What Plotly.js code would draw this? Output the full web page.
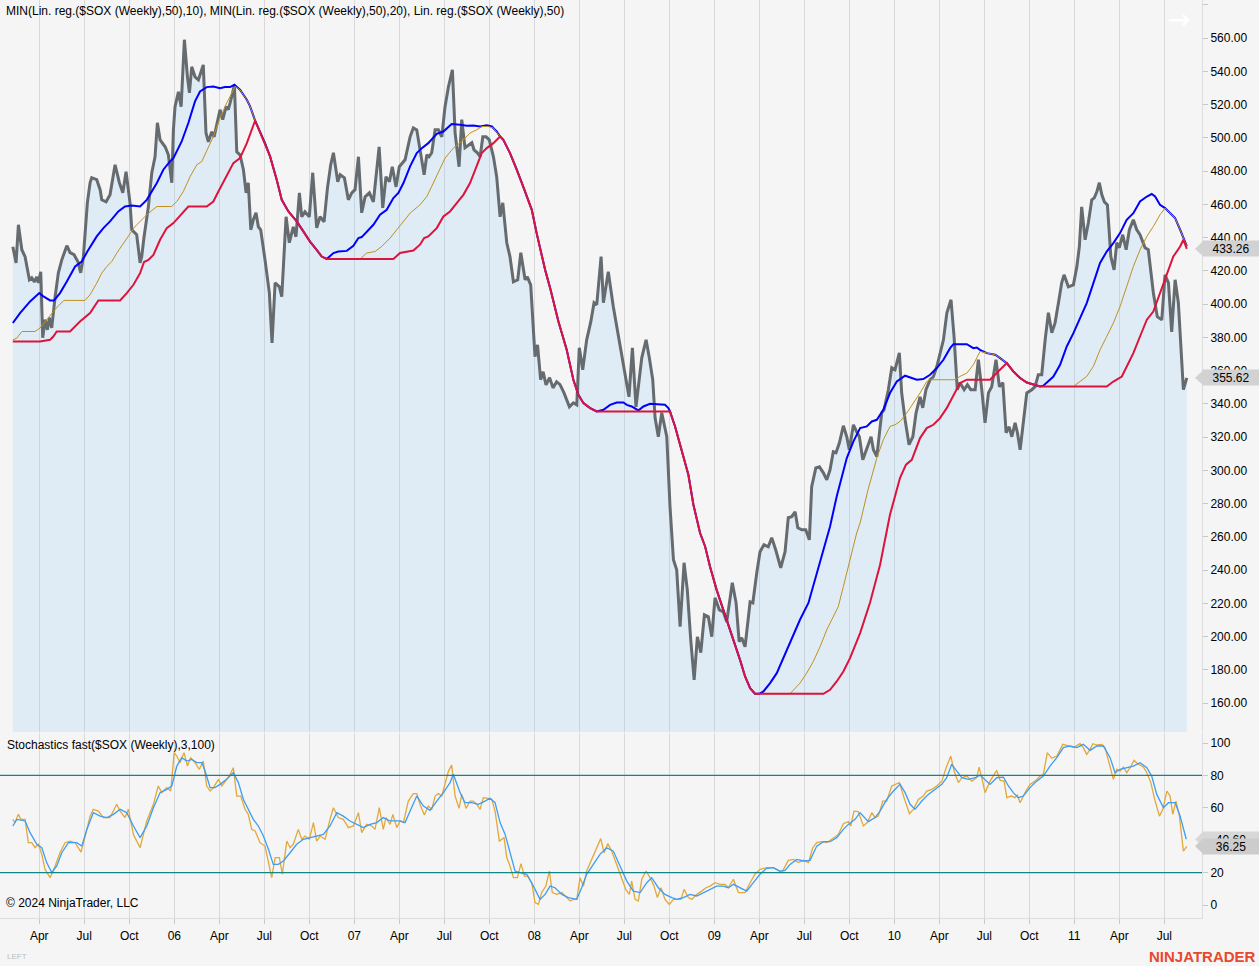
<!DOCTYPE html>
<html><head><meta charset="utf-8">
<script src="https://cdn.plot.ly/plotly-3.0.1.min.js"></script>
<style>html,body{margin:0;padding:0;background:#f5f5f5}#chart{width:1259px;height:966px}</style>
</head><body><div id="chart"></div>
<script>
// ---- data: [decimal year, value] ----
const price = [[2005.103,434.5],[2005.121,424.8],[2005.134,447.7],[2005.153,432.7],[2005.171,428.5],[2005.195,414.6],[2005.208,415.8],[2005.223,413.4],[2005.236,416.4],[2005.245,412.8],[2005.258,419.4],[2005.269,379.7],[2005.282,390.6],[2005.295,384.5],[2005.306,391.8],[2005.319,385.7],[2005.338,404.4],[2005.356,418.8],[2005.375,426.6],[2005.403,435.1],[2005.421,430.9],[2005.443,429.7],[2005.465,425.4],[2005.480,418.8],[2005.495,428.5],[2005.517,460.9],[2005.532,473.0],[2005.541,476.0],[2005.569,474.8],[2005.588,468.8],[2005.597,462.7],[2005.621,461.5],[2005.643,465.7],[2005.671,483.8],[2005.695,473.0],[2005.714,466.9],[2005.732,479.6],[2005.754,460.9],[2005.764,444.7],[2005.791,441.7],[2005.810,424.8],[2005.819,428.5],[2005.832,440.5],[2005.856,458.5],[2005.875,479.0],[2005.893,488.6],[2005.906,509.0],[2005.921,498.8],[2005.949,494.6],[2005.967,489.8],[2005.986,473.0],[2005.995,504.8],[2006.004,518.7],[2006.023,527.7],[2006.038,518.7],[2006.056,559.0],[2006.073,536.7],[2006.084,527.1],[2006.097,542.7],[2006.115,536.7],[2006.134,534.9],[2006.161,543.9],[2006.176,503.0],[2006.189,497.6],[2006.208,503.6],[2006.221,500.6],[2006.254,516.9],[2006.269,510.9],[2006.288,518.7],[2006.300,516.9],[2006.319,524.7],[2006.334,531.9],[2006.347,491.6],[2006.365,489.8],[2006.384,480.8],[2006.399,466.9],[2006.411,473.0],[2006.425,444.7],[2006.439,450.7],[2006.454,454.9],[2006.467,446.5],[2006.480,444.7],[2006.504,426.6],[2006.528,406.8],[2006.543,376.7],[2006.560,412.8],[2006.584,410.4],[2006.597,404.4],[2006.621,452.5],[2006.639,436.9],[2006.661,446.5],[2006.676,440.5],[2006.695,466.9],[2006.708,452.5],[2006.726,455.5],[2006.750,452.5],[2006.769,479.0],[2006.791,445.9],[2006.810,452.5],[2006.832,449.5],[2006.851,469.9],[2006.869,483.8],[2006.884,491.0],[2006.908,473.6],[2006.921,477.8],[2006.945,475.9],[2006.967,462.7],[2006.986,466.9],[2007.004,468.8],[2007.023,488.6],[2007.041,454.9],[2007.060,464.5],[2007.084,466.9],[2007.106,461.5],[2007.138,494.6],[2007.158,457.9],[2007.176,476.6],[2007.195,473.6],[2007.211,482.6],[2007.232,470.5],[2007.250,482.6],[2007.282,486.8],[2007.310,500.6],[2007.328,506.0],[2007.347,504.8],[2007.365,492.8],[2007.388,477.8],[2007.403,489.8],[2007.415,488.6],[2007.430,491.0],[2007.449,504.8],[2007.467,504.8],[2007.486,500.6],[2007.504,518.7],[2007.523,530.7],[2007.545,540.9],[2007.560,503.0],[2007.582,482.6],[2007.597,510.9],[2007.615,494.0],[2007.634,495.8],[2007.653,497.0],[2007.665,492.8],[2007.684,491.0],[2007.699,488.6],[2007.714,500.6],[2007.732,500.6],[2007.750,498.8],[2007.773,488.6],[2007.791,476.6],[2007.810,452.5],[2007.825,460.9],[2007.847,436.9],[2007.865,428.5],[2007.884,413.4],[2007.908,414.6],[2007.925,430.9],[2007.949,414.6],[2007.961,416.4],[2007.980,411.6],[2008.004,368.3],[2008.018,375.5],[2008.035,354.5],[2008.049,359.3],[2008.065,351.4],[2008.085,355.7],[2008.104,349.6],[2008.124,353.3],[2008.143,351.5],[2008.165,346.6],[2008.195,338.2],[2008.217,340.6],[2008.236,339.4],[2008.250,373.7],[2008.269,360.5],[2008.291,378.5],[2008.314,389.4],[2008.332,400.8],[2008.347,399.6],[2008.371,428.5],[2008.384,400.8],[2008.411,419.4],[2008.439,398.4],[2008.467,380.3],[2008.495,362.3],[2008.514,350.3],[2008.526,344.2],[2008.545,373.7],[2008.565,338.2],[2008.597,367.7],[2008.621,378.5],[2008.639,367.7],[2008.658,354.5],[2008.671,331.6],[2008.689,320.2],[2008.708,334.6],[2008.736,320.2],[2008.754,278.1],[2008.773,246.2],[2008.791,240.2],[2008.810,205.9],[2008.832,244.4],[2008.850,228.1],[2008.869,198.1],[2008.888,174.0],[2008.906,199.9],[2008.925,190.3],[2008.945,213.1],[2008.967,211.9],[2008.986,199.9],[2009.004,223.3],[2009.028,216.1],[2009.050,214.9],[2009.069,208.9],[2009.100,232.4],[2009.121,220.3],[2009.138,196.9],[2009.152,199.3],[2009.171,193.9],[2009.199,220.9],[2009.214,220.3],[2009.236,238.4],[2009.254,251.0],[2009.276,255.2],[2009.300,254.0],[2009.319,259.4],[2009.341,252.2],[2009.369,241.4],[2009.393,251.0],[2009.411,271.5],[2009.430,272.1],[2009.449,275.1],[2009.464,265.4],[2009.486,264.2],[2009.508,264.2],[2009.528,258.2],[2009.541,290.1],[2009.564,301.5],[2009.584,302.1],[2009.606,298.5],[2009.625,294.3],[2009.643,300.3],[2009.661,311.2],[2009.676,310.6],[2009.695,316.6],[2009.717,326.8],[2009.736,320.2],[2009.750,312.4],[2009.773,327.4],[2009.791,323.2],[2009.806,320.2],[2009.825,306.3],[2009.853,314.2],[2009.871,320.2],[2009.884,312.4],[2009.903,308.2],[2009.930,334.6],[2009.943,336.4],[2009.967,348.5],[2009.986,361.7],[2010.004,360.5],[2010.028,370.7],[2010.041,346.6],[2010.060,330.4],[2010.082,315.4],[2010.103,320.2],[2010.121,334.6],[2010.143,344.2],[2010.158,337.6],[2010.176,348.5],[2010.199,354.5],[2010.217,356.3],[2010.236,362.3],[2010.254,370.7],[2010.273,378.5],[2010.292,394.8],[2010.315,402.6],[2010.332,380.3],[2010.350,348.5],[2010.365,352.7],[2010.388,348.5],[2010.406,351.5],[2010.425,348.5],[2010.449,348.5],[2010.467,366.5],[2010.486,348.5],[2010.504,328.6],[2010.523,346.6],[2010.541,350.3],[2010.565,366.5],[2010.584,350.3],[2010.603,352.7],[2010.621,322.6],[2010.638,326.2],[2010.653,320.2],[2010.671,328.6],[2010.684,322.6],[2010.699,312.4],[2010.717,330.4],[2010.736,346.6],[2010.764,348.5],[2010.782,350.3],[2010.800,357.5],[2010.819,357.5],[2010.838,378.5],[2010.856,394.8],[2010.875,382.7],[2010.893,388.7],[2010.912,400.8],[2010.930,412.8],[2010.943,417.6],[2010.967,410.4],[2010.995,411.6],[2011.014,422.4],[2011.028,434.5],[2011.041,458.5],[2011.060,438.7],[2011.078,448.9],[2011.097,462.7],[2011.111,463.9],[2011.125,467.5],[2011.139,473.0],[2011.153,465.7],[2011.167,461.5],[2011.184,459.7],[2011.203,428.5],[2011.221,420.6],[2011.236,436.9],[2011.250,433.9],[2011.269,441.7],[2011.288,432.7],[2011.306,444.7],[2011.328,450.7],[2011.347,444.7],[2011.365,441.7],[2011.393,433.9],[2011.411,432.7],[2011.439,406.8],[2011.461,392.4],[2011.486,390.5],[2011.504,417.6],[2011.523,412.8],[2011.541,383.3],[2011.560,414.6],[2011.578,400.8],[2011.606,348.5],[2011.625,355.62]];

// MIN(Lin. reg.(50),10) - blue
const minReg10 = [[2005.103,388.6],[2005.143,394.6],[2005.199,401.6],[2005.250,406.6],[2005.273,404.6],[2005.310,402.2],[2005.332,402.2],[2005.365,406.6],[2005.403,413.6],[2005.449,422.6],[2005.486,425.6],[2005.517,431.6],[2005.569,440.7],[2005.606,445.7],[2005.643,449.7],[2005.689,455.7],[2005.726,458.7],[2005.764,459.3],[2005.810,458.7],[2005.847,462.7],[2005.903,472.8],[2005.939,480.8],[2005.976,485.8],[2005.995,487.8],[2006.041,497.8],[2006.078,508.9],[2006.115,521.9],[2006.143,527.9],[2006.180,530.5],[2006.217,530.9],[2006.254,529.9],[2006.282,530.5],[2006.310,530.5],[2006.334,531.9],[2006.365,528.9],[2006.403,522.9],[2006.421,518.9],[2006.449,510.4],[2006.504,496.8],[2006.532,488.8],[2006.569,474.8],[2006.597,462.7],[2006.634,455.7],[2006.680,449.7],[2006.717,443.7],[2006.754,437.6],[2006.791,432.6],[2006.819,428.6],[2006.847,427.1],[2006.884,430.7],[2006.911,431.6],[2006.958,432.0],[2006.995,435.0],[2007.023,439.7],[2007.041,440.3],[2007.069,443.7],[2007.106,447.7],[2007.143,453.7],[2007.180,456.7],[2007.217,463.8],[2007.245,466.8],[2007.273,472.8],[2007.310,482.8],[2007.347,490.8],[2007.375,493.8],[2007.411,496.8],[2007.458,502.4],[2007.495,503.8],[2007.541,508.3],[2007.588,507.9],[2007.625,507.3],[2007.661,507.4],[2007.699,506.8],[2007.736,507.6],[2007.764,506.8],[2007.791,503.8],[2007.810,500.8],[2007.828,498.8],[2007.865,490.8],[2007.903,480.8],[2007.939,470.7],[2007.986,456.7],[2008.013,442.7],[2008.060,420.6],[2008.088,409.6],[2008.134,389.5],[2008.180,372.5],[2008.217,354.5],[2008.245,345.4],[2008.273,340.4],[2008.310,337.4],[2008.347,335.4],[2008.384,336.4],[2008.421,339.4],[2008.458,340.8],[2008.495,340.8],[2008.514,339.4],[2008.541,338.4],[2008.578,336.0],[2008.606,338.4],[2008.643,340.0],[2008.699,339.4],[2008.726,339.4],[2008.745,337.4],[2008.754,335.4],[2008.782,326.4],[2008.819,312.4],[2008.856,297.3],[2008.884,279.3],[2008.921,262.3],[2008.949,254.2],[2008.976,242.2],[2009.013,228.1],[2009.050,216.1],[2009.088,204.1],[2009.115,196.1],[2009.143,186.0],[2009.171,176.0],[2009.199,169.0],[2009.226,165.6],[2009.250,165.6],[2009.273,167.0],[2009.310,172.0],[2009.347,178.0],[2009.384,187.1],[2009.430,198.1],[2009.476,210.1],[2009.523,220.2],[2009.560,234.1],[2009.606,252.2],[2009.643,266.2],[2009.680,284.3],[2009.717,300.3],[2009.736,307.4],[2009.773,317.4],[2009.810,325.4],[2009.847,326.4],[2009.875,329.4],[2009.903,330.4],[2009.939,336.4],[2009.976,346.5],[2010.014,353.4],[2010.060,356.9],[2010.097,355.5],[2010.125,354.5],[2010.161,354.9],[2010.199,357.5],[2010.236,361.5],[2010.273,366.5],[2010.310,373.5],[2010.328,375.9],[2010.403,375.9],[2010.439,373.5],[2010.458,373.9],[2010.476,372.5],[2010.514,370.5],[2010.560,369.5],[2010.588,367.5],[2010.625,364.5],[2010.661,359.5],[2010.699,355.5],[2010.736,352.8],[2010.810,350.4],[2010.828,350.9],[2010.884,356.4],[2010.921,363.5],[2010.958,374.5],[2010.995,382.5],[2011.032,391.6],[2011.069,400.6],[2011.106,412.6],[2011.143,424.7],[2011.180,431.6],[2011.217,436.7],[2011.254,442.7],[2011.291,450.7],[2011.328,454.7],[2011.365,461.7],[2011.403,464.7],[2011.430,466.2],[2011.449,464.7],[2011.476,459.7],[2011.504,457.7],[2011.532,454.7],[2011.560,451.7],[2011.588,444.7],[2011.625,434.8]];

// MIN(Lin. reg.(50),20) - gold
const minReg20 = [[2005.103,378.5],[2005.125,379.5],[2005.153,383.5],[2005.226,383.5],[2005.254,385.6],[2005.282,389.5],[2005.310,393.6],[2005.328,395.5],[2005.356,399.0],[2005.388,402.2],[2005.504,402.2],[2005.532,405.6],[2005.569,412.6],[2005.597,418.6],[2005.625,422.6],[2005.653,425.6],[2005.680,430.6],[2005.717,436.7],[2005.754,442.9],[2005.782,446.7],[2005.810,449.7],[2005.847,453.7],[2005.903,458.7],[2005.986,458.7],[2006.014,461.7],[2006.050,467.7],[2006.088,476.7],[2006.125,483.8],[2006.153,485.8],[2006.180,491.8],[2006.217,500.8],[2006.254,511.9],[2006.291,520.9],[2006.338,530.9],[2006.365,528.9],[2006.403,522.9],[2006.421,518.9],[2006.449,510.4],[2006.504,496.8],[2006.532,488.8],[2006.569,474.8],[2006.597,462.7],[2006.634,455.7],[2006.680,449.7],[2006.717,443.7],[2006.754,437.6],[2006.791,432.6],[2006.819,428.6],[2006.847,427.1],[2007.032,427.1],[2007.069,430.7],[2007.115,431.6],[2007.153,434.7],[2007.199,439.7],[2007.236,444.7],[2007.310,454.7],[2007.365,459.7],[2007.403,464.7],[2007.439,472.8],[2007.476,480.8],[2007.504,487.8],[2007.550,493.8],[2007.597,497.8],[2007.643,502.9],[2007.680,504.8],[2007.708,506.8],[2007.745,506.8],[2007.773,505.9],[2007.800,501.8],[2007.810,500.8],[2007.828,498.8],[2007.865,490.8],[2007.903,480.8],[2007.939,470.7],[2007.986,456.7],[2008.013,442.7],[2008.060,420.6],[2008.088,409.6],[2008.134,389.5],[2008.180,372.5],[2008.217,354.5],[2008.245,345.4],[2008.273,340.4],[2008.310,337.4],[2008.347,335.4],[2008.754,335.4],[2008.782,326.4],[2008.819,312.4],[2008.856,297.3],[2008.884,279.3],[2008.921,262.3],[2008.949,254.2],[2008.976,242.2],[2009.013,228.1],[2009.050,216.1],[2009.088,204.1],[2009.115,196.1],[2009.143,186.0],[2009.171,176.0],[2009.199,169.0],[2009.226,165.6],[2009.421,165.6],[2009.476,172.0],[2009.513,178.0],[2009.550,185.0],[2009.588,194.0],[2009.625,204.1],[2009.661,212.1],[2009.689,218.1],[2009.717,230.1],[2009.754,246.2],[2009.791,262.3],[2009.810,268.3],[2009.854,288.3],[2009.903,307.4],[2009.939,318.4],[2009.976,326.4],[2010.004,327.4],[2010.032,329.4],[2010.069,334.4],[2010.106,340.5],[2010.143,346.5],[2010.180,353.4],[2010.199,354.5],[2010.338,354.5],[2010.365,356.5],[2010.403,358.5],[2010.439,363.5],[2010.476,371.5],[2010.514,370.5],[2010.560,369.5],[2010.588,367.5],[2010.625,364.5],[2010.661,359.5],[2010.699,355.5],[2010.736,352.8],[2010.810,350.4],[2010.995,350.4],[2011.069,356.5],[2011.106,362.5],[2011.143,372.5],[2011.180,380.5],[2011.217,388.6],[2011.254,398.5],[2011.291,410.6],[2011.328,422.6],[2011.365,432.6],[2011.403,440.7],[2011.439,446.7],[2011.476,453.7],[2011.504,457.7],[2011.532,454.7],[2011.560,451.7],[2011.588,444.7],[2011.625,434.8]];

// Lin. reg.(50) - red
const linReg50 = [[2005.103,377.5],[2005.254,377.5],[2005.310,378.5],[2005.328,380.5],[2005.347,383.5],[2005.421,383.5],[2005.476,389.5],[2005.532,394.6],[2005.578,402.2],[2005.699,402.2],[2005.736,406.6],[2005.773,411.6],[2005.810,418.6],[2005.832,425.3],[2005.856,426.6],[2005.884,429.6],[2005.921,438.7],[2005.958,445.7],[2005.995,448.7],[2006.050,455.7],[2006.078,458.7],[2006.180,458.7],[2006.217,461.7],[2006.245,467.7],[2006.273,473.7],[2006.310,480.8],[2006.328,484.8],[2006.365,487.8],[2006.403,496.8],[2006.449,510.4],[2006.504,496.8],[2006.532,488.8],[2006.569,474.8],[2006.597,462.7],[2006.634,455.7],[2006.680,449.7],[2006.717,443.7],[2006.754,437.6],[2006.791,432.6],[2006.819,428.6],[2006.847,427.1],[2007.217,427.1],[2007.254,430.7],[2007.291,431.6],[2007.328,432.2],[2007.365,435.7],[2007.388,439.7],[2007.411,440.7],[2007.458,445.7],[2007.495,452.7],[2007.532,455.7],[2007.569,460.7],[2007.606,465.7],[2007.643,472.8],[2007.680,482.8],[2007.708,490.8],[2007.736,493.8],[2007.773,496.8],[2007.810,500.8],[2007.828,498.8],[2007.865,490.8],[2007.903,480.8],[2007.939,470.7],[2007.986,456.7],[2008.013,442.7],[2008.060,420.6],[2008.088,409.6],[2008.134,389.5],[2008.180,372.5],[2008.217,354.5],[2008.245,345.4],[2008.273,340.4],[2008.310,337.4],[2008.347,335.4],[2008.754,335.4],[2008.782,326.4],[2008.819,312.4],[2008.856,297.3],[2008.884,279.3],[2008.921,262.3],[2008.949,254.2],[2008.976,242.2],[2009.013,228.1],[2009.050,216.1],[2009.088,204.1],[2009.115,196.1],[2009.143,186.0],[2009.171,176.0],[2009.199,169.0],[2009.226,165.6],[2009.606,165.6],[2009.643,168.0],[2009.680,173.0],[2009.717,179.0],[2009.754,187.0],[2009.791,197.0],[2009.810,202.1],[2009.865,220.3],[2009.921,243.2],[2009.976,273.3],[2010.032,295.5],[2010.065,303.4],[2010.097,306.3],[2010.143,319.4],[2010.180,325.4],[2010.217,327.4],[2010.254,331.4],[2010.291,337.4],[2010.328,345.4],[2010.365,352.5],[2010.403,354.5],[2010.532,354.5],[2010.569,358.5],[2010.625,364.5],[2010.661,359.5],[2010.699,355.5],[2010.736,352.8],[2010.810,350.4],[2011.180,350.4],[2011.217,353.4],[2011.264,356.4],[2011.291,362.5],[2011.328,370.5],[2011.365,380.5],[2011.403,390.6],[2011.439,395.5],[2011.476,406.6],[2011.514,418.6],[2011.550,428.6],[2011.588,434.6],[2011.606,438.7],[2011.625,433.26]];

// Stochastics fast: K (orange) and D (blue)
const stochK = [[2005.103,52.9],[2005.115,50.9],[2005.134,56.0],[2005.147,52.9],[2005.171,52.9],[2005.189,38.5],[2005.208,38.5],[2005.226,35.4],[2005.245,37.5],[2005.264,31.3],[2005.282,22.0],[2005.310,16.9],[2005.338,24.1],[2005.365,32.3],[2005.393,38.5],[2005.421,39.5],[2005.449,38.5],[2005.482,32.7],[2005.510,44.7],[2005.532,54.9],[2005.550,59.1],[2005.578,58.0],[2005.606,54.0],[2005.643,54.0],[2005.680,62.2],[2005.699,58.0],[2005.726,54.0],[2005.745,59.1],[2005.773,43.6],[2005.810,35.4],[2005.847,51.9],[2005.884,62.2],[2005.911,73.5],[2005.930,69.4],[2005.958,72.5],[2005.980,70.4],[2005.999,94.1],[2006.014,92.0],[2006.032,87.9],[2006.054,94.1],[2006.073,85.8],[2006.091,91.0],[2006.115,87.9],[2006.139,83.8],[2006.161,88.9],[2006.180,73.5],[2006.199,70.4],[2006.217,72.5],[2006.245,77.6],[2006.264,73.5],[2006.291,77.6],[2006.310,80.7],[2006.328,84.8],[2006.347,67.3],[2006.369,67.3],[2006.393,59.1],[2006.411,56.0],[2006.430,46.7],[2006.449,45.7],[2006.476,38.5],[2006.504,36.4],[2006.523,27.2],[2006.541,16.9],[2006.560,29.3],[2006.584,29.3],[2006.600,19.0],[2006.625,39.5],[2006.643,35.4],[2006.661,37.5],[2006.689,46.7],[2006.708,40.6],[2006.726,42.6],[2006.750,40.6],[2006.773,50.9],[2006.791,39.5],[2006.810,42.6],[2006.838,40.6],[2006.865,52.9],[2006.884,60.1],[2006.911,54.0],[2006.939,52.9],[2006.967,47.8],[2006.995,48.8],[2007.023,57.0],[2007.041,44.7],[2007.069,49.8],[2007.097,48.8],[2007.115,46.7],[2007.139,60.1],[2007.161,46.7],[2007.176,54.0],[2007.199,49.8],[2007.214,56.0],[2007.236,47.8],[2007.254,51.9],[2007.273,50.9],[2007.300,64.2],[2007.328,68.8],[2007.347,68.8],[2007.365,62.2],[2007.389,55.6],[2007.411,61.1],[2007.430,59.1],[2007.449,67.3],[2007.467,68.8],[2007.486,67.3],[2007.504,74.5],[2007.523,82.7],[2007.541,86.4],[2007.560,67.3],[2007.582,59.7],[2007.597,68.3],[2007.621,59.7],[2007.643,64.2],[2007.661,64.2],[2007.680,62.2],[2007.699,59.1],[2007.717,66.3],[2007.745,65.9],[2007.764,65.2],[2007.782,58.0],[2007.806,39.5],[2007.832,41.6],[2007.847,29.3],[2007.865,24.1],[2007.884,16.9],[2007.906,16.9],[2007.926,25.6],[2007.945,17.9],[2007.964,17.9],[2007.986,13.8],[2008.004,1.5],[2008.023,0.4],[2008.041,7.7],[2008.064,11.7],[2008.084,21.0],[2008.100,7.7],[2008.125,6.6],[2008.153,7.7],[2008.180,4.6],[2008.199,2.5],[2008.217,3.5],[2008.236,3.5],[2008.254,16.9],[2008.273,11.7],[2008.291,21.0],[2008.319,28.2],[2008.343,33.3],[2008.369,41.0],[2008.388,32.3],[2008.408,37.9],[2008.430,33.3],[2008.458,25.1],[2008.486,16.9],[2008.508,9.7],[2008.528,6.6],[2008.541,14.8],[2008.560,3.5],[2008.578,2.5],[2008.597,15.9],[2008.621,21.0],[2008.643,16.9],[2008.665,11.7],[2008.684,4.6],[2008.704,10.7],[2008.726,3.5],[2008.750,0.4],[2008.773,3.5],[2008.797,3.5],[2008.815,3.5],[2008.832,9.7],[2008.856,4.6],[2008.875,3.5],[2008.903,6.6],[2008.930,8.6],[2008.954,10.7],[2008.976,11.7],[2009.004,13.8],[2009.032,12.8],[2009.060,12.8],[2009.078,10.7],[2009.106,15.9],[2009.134,7.7],[2009.171,7.7],[2009.199,13.8],[2009.226,19.0],[2009.254,22.0],[2009.291,23.1],[2009.328,23.1],[2009.347,22.0],[2009.375,20.0],[2009.411,27.6],[2009.439,28.2],[2009.467,26.2],[2009.495,27.6],[2009.523,26.2],[2009.547,35.4],[2009.569,38.5],[2009.597,39.1],[2009.625,38.5],[2009.661,41.6],[2009.689,43.6],[2009.717,50.2],[2009.745,51.5],[2009.758,48.8],[2009.776,58.0],[2009.800,57.7],[2009.828,48.8],[2009.850,50.9],[2009.875,57.0],[2009.893,54.0],[2009.911,54.9],[2009.936,64.2],[2009.958,64.2],[2009.986,73.5],[2010.004,74.5],[2010.028,75.6],[2010.054,66.3],[2010.084,56.4],[2010.106,59.1],[2010.134,65.2],[2010.161,67.3],[2010.180,70.4],[2010.208,71.4],[2010.236,73.5],[2010.264,76.5],[2010.288,84.8],[2010.314,92.0],[2010.332,82.7],[2010.356,75.6],[2010.375,78.6],[2010.403,79.6],[2010.431,76.5],[2010.458,78.6],[2010.471,85.2],[2010.486,78.6],[2010.504,69.4],[2010.532,76.5],[2010.569,83.1],[2010.588,77.0],[2010.610,76.5],[2010.625,66.3],[2010.649,67.3],[2010.671,66.3],[2010.683,67.9],[2010.699,63.2],[2010.726,69.4],[2010.754,74.5],[2010.782,76.5],[2010.810,79.6],[2010.828,80.7],[2010.850,94.1],[2010.875,90.6],[2010.903,92.0],[2010.936,99.2],[2010.967,98.2],[2010.995,97.2],[2011.032,99.6],[2011.050,97.2],[2011.069,93.0],[2011.088,96.1],[2011.103,99.6],[2011.125,98.8],[2011.153,99.2],[2011.171,97.2],[2011.195,86.9],[2011.217,77.6],[2011.236,83.8],[2011.254,82.7],[2011.273,85.2],[2011.291,81.7],[2011.310,84.8],[2011.332,89.3],[2011.356,86.9],[2011.384,85.2],[2011.403,81.7],[2011.425,75.6],[2011.449,64.2],[2011.473,54.9],[2011.492,59.1],[2011.514,70.4],[2011.532,67.3],[2011.547,56.0],[2011.565,64.2],[2011.584,54.9],[2011.606,33.3],[2011.625,36.25]];

const stochD = [[2005.103,48.8],[2005.125,52.9],[2005.171,51.9],[2005.199,44.7],[2005.236,37.5],[2005.264,35.4],[2005.291,26.2],[2005.319,20.0],[2005.347,24.1],[2005.375,32.3],[2005.412,38.5],[2005.458,38.5],[2005.486,36.4],[2005.514,46.7],[2005.550,57.0],[2005.588,54.9],[2005.625,54.0],[2005.662,56.0],[2005.699,59.1],[2005.736,57.0],[2005.773,48.8],[2005.810,41.6],[2005.847,48.8],[2005.884,60.1],[2005.921,69.4],[2005.958,71.4],[2005.986,73.5],[2006.014,85.8],[2006.041,91.0],[2006.069,88.9],[2006.097,89.9],[2006.125,87.9],[2006.153,87.9],[2006.171,82.7],[2006.199,72.5],[2006.226,72.5],[2006.254,74.5],[2006.291,77.6],[2006.328,81.7],[2006.356,75.6],[2006.384,65.2],[2006.411,59.1],[2006.439,52.9],[2006.467,48.8],[2006.495,42.6],[2006.523,34.4],[2006.550,25.1],[2006.578,25.1],[2006.606,27.2],[2006.643,32.3],[2006.680,37.5],[2006.717,40.6],[2006.754,41.6],[2006.791,42.6],[2006.828,43.6],[2006.865,48.8],[2006.903,57.0],[2006.939,54.9],[2006.976,51.9],[2007.014,49.8],[2007.050,47.8],[2007.088,49.8],[2007.125,50.9],[2007.161,54.0],[2007.199,51.9],[2007.254,51.9],[2007.282,50.9],[2007.310,58.0],[2007.347,67.3],[2007.384,61.1],[2007.421,58.5],[2007.458,64.2],[2007.495,69.4],[2007.532,75.6],[2007.550,80.7],[2007.588,69.4],[2007.615,63.2],[2007.653,63.2],[2007.689,62.2],[2007.726,64.2],[2007.754,65.9],[2007.782,63.2],[2007.810,50.9],[2007.838,43.6],[2007.865,32.3],[2007.893,21.0],[2007.921,20.0],[2007.958,19.0],[2007.995,11.7],[2008.032,3.5],[2008.060,6.6],[2008.088,11.7],[2008.115,10.7],[2008.153,6.6],[2008.189,4.6],[2008.236,3.5],[2008.263,10.7],[2008.291,19.0],[2008.328,25.1],[2008.365,31.3],[2008.402,35.4],[2008.439,33.3],[2008.476,24.1],[2008.514,14.8],[2008.550,8.6],[2008.588,7.7],[2008.625,13.8],[2008.652,16.9],[2008.689,10.7],[2008.726,6.6],[2008.764,4.6],[2008.791,3.5],[2008.828,4.6],[2008.865,6.6],[2008.903,5.6],[2008.939,7.7],[2008.976,9.7],[2009.013,11.7],[2009.050,11.7],[2009.078,10.7],[2009.106,12.8],[2009.143,10.7],[2009.180,8.6],[2009.217,13.8],[2009.254,19.0],[2009.291,22.7],[2009.328,23.1],[2009.365,21.0],[2009.393,21.4],[2009.421,25.1],[2009.458,28.2],[2009.495,27.2],[2009.532,27.6],[2009.569,36.4],[2009.606,39.1],[2009.643,39.1],[2009.680,41.6],[2009.717,46.7],[2009.745,49.8],[2009.782,52.9],[2009.810,57.0],[2009.856,51.5],[2009.893,54.0],[2009.921,58.0],[2009.958,65.2],[2009.995,70.4],[2010.032,74.5],[2010.060,69.4],[2010.088,62.2],[2010.115,59.1],[2010.153,64.2],[2010.189,68.3],[2010.226,71.4],[2010.264,74.5],[2010.291,78.6],[2010.319,86.9],[2010.347,82.7],[2010.375,78.6],[2010.412,77.6],[2010.449,78.6],[2010.476,80.2],[2010.504,77.6],[2010.532,74.5],[2010.569,78.6],[2010.606,79.0],[2010.634,73.5],[2010.661,69.4],[2010.689,66.3],[2010.717,67.3],[2010.754,72.5],[2010.791,76.5],[2010.828,79.6],[2010.865,85.8],[2010.903,91.0],[2010.939,97.2],[2010.976,98.2],[2011.014,97.2],[2011.050,99.2],[2011.088,95.5],[2011.125,98.2],[2011.161,98.2],[2011.199,91.0],[2011.226,81.7],[2011.254,83.8],[2011.291,84.8],[2011.328,85.8],[2011.365,87.9],[2011.403,84.8],[2011.430,79.6],[2011.458,68.3],[2011.495,60.1],[2011.523,63.2],[2011.560,63.2],[2011.588,54.9],[2011.622,40.6]];

// x-axis ticks (quarters) and labels
const tickT = [2005.25,2005.5,2005.75,2006,2006.25,2006.5,2006.75,2007,2007.25,2007.5,2007.75,2008,2008.25,2008.5,2008.75,2009,2009.25,2009.5,2009.75,2010,2010.25,2010.5,2010.75,2011,2011.25,2011.5];
const tickText = ['Apr','Jul','Oct','06','Apr','Jul','Oct','07','Apr','Jul','Oct','08','Apr','Jul','Oct','09','Apr','Jul','Oct','10','Apr','Jul','Oct','11','Apr','Jul'];
const stochLevels = [80, 20];

const xs = a => a.map(p => p[0]);
const ys = a => a.map(p => p[1]);
const last = a => a[a.length - 1][1];

const FONT = 'Liberation Sans, Arial, sans-serif';
const W = 1202, H = 918; // plot area in px (layout decoration helpers)
const pxX = v => v / W;
const pxY = v => 1 - v / H;

const traces = [
  {x: xs(price), y: ys(price), type:'scatter', mode:'lines', fill:'tozeroy',
   fillcolor:'rgba(135,200,250,0.2)', line:{color:'#656b6f', width:3}, hoverinfo:'skip', xaxis:'x', yaxis:'y'},
  {x: xs(minReg10), y: ys(minReg10), type:'scatter', mode:'lines', line:{color:'#0000ff', width:2}, hoverinfo:'skip', xaxis:'x', yaxis:'y'},
  {x: xs(minReg20), y: ys(minReg20), type:'scatter', mode:'lines', line:{color:'#c0901e', width:1}, hoverinfo:'skip', xaxis:'x', yaxis:'y'},
  {x: xs(linReg50), y: ys(linReg50), type:'scatter', mode:'lines', line:{color:'#dc143c', width:2}, hoverinfo:'skip', xaxis:'x', yaxis:'y'},
  {x: xs(stochK), y: ys(stochK), type:'scatter', mode:'lines', line:{color:'#e3a83a', width:1.3}, hoverinfo:'skip', xaxis:'x', yaxis:'y2'},
  {x: xs(stochD), y: ys(stochD), type:'scatter', mode:'lines', line:{color:'#3d9df5', width:1.3}, hoverinfo:'skip', xaxis:'x', yaxis:'y2'}
];

// value tags on the right axis: pointed tip (shape) + boxed label (annotation)
function tagTip(yref, v, half, color) {
  const a = pxX(1195), b = pxX(1203);
  return {type:'path', xref:'paper', yref:yref, layer:'above', fillcolor:color, line:{width:0},
    path:`M ${a},${v} L ${b},${v + half} L ${b},${v - half} Z`};
}
function tagBox(yref, v, color) {
  return {xref:'paper', x:1, xanchor:'left', xshift:0, yref:yref, y:v, yanchor:'middle',
    text: v.toFixed(2), showarrow:false, bgcolor:color, borderpad:0, width:56, height:15, align:'center',
    font:{family:FONT, size:12, color:'#000'}};
}

const shapes = stochLevels.map(l => ({type:'line', xref:'paper', x0:0, x1:1, yref:'y2', y0:l, y1:l,
  line:{color:'#128585', width:1.2}}));
shapes.push(tagTip('y', last(linReg50), 4.5, '#d2d2d2'));
shapes.push(tagTip('y', last(price), 4.5, '#d2d2d2'));
shapes.push(tagTip('y2', last(stochD), 4.6, '#d8d8d8'));
shapes.push(tagTip('y2', last(stochK), 4.6, '#cccccc'));

const annotations = [
  {xref:'paper', yref:'paper', x:0, y:pxY(11), xanchor:'left', yanchor:'middle', xshift:4, showarrow:false,
   text:'MIN(Lin. reg.($SOX (Weekly),50),10), MIN(Lin. reg.($SOX (Weekly),50),20), Lin. reg.($SOX (Weekly),50)',
   font:{family:FONT, size:12, color:'#000'}},
  {xref:'paper', yref:'paper', x:0, y:pxY(745), xanchor:'left', yanchor:'middle', xshift:5, showarrow:false,
   text:'Stochastics fast($SOX (Weekly),3,100)', font:{family:FONT, size:12, color:'#000'}},
  {xref:'paper', yref:'paper', x:0, y:pxY(903), xanchor:'left', yanchor:'middle', xshift:4, showarrow:false,
   text:'© 2024 NinjaTrader, LLC', font:{family:FONT, size:12, color:'#000'}},
  {xref:'paper', yref:'paper', x:0, y:pxY(956), xanchor:'left', yanchor:'middle', xshift:5, showarrow:false,
   text:'LEFT', font:{family:FONT, size:8, color:'#bdbdbd'}},
  {xref:'paper', yref:'paper', x:pxX(1258), y:pxY(956), xanchor:'right', yanchor:'middle', showarrow:false,
   text:'<b>NINJATRADER</b>', font:{family:FONT, size:15, color:'#e8482d'}},
  {xref:'paper', yref:'paper', x:pxX(1178), y:pxY(19), xanchor:'center', yanchor:'middle', showarrow:false,
   text:'→', font:{family:'DejaVu Sans', size:28, color:'#ffffff'}},
  tagBox('y', last(linReg50), '#d2d2d2'),
  tagBox('y', last(price), '#d2d2d2'),
  tagBox('y2', last(stochD), '#d8d8d8'),
  tagBox('y2', last(stochK), '#cccccc')
];

const axisCommon = {zeroline:false, showline:true, linecolor:'#dddddd', linewidth:1,
  ticks:'outside', ticklen:5, tickcolor:'#c8c8c8', tickfont:{family:FONT, size:12, color:'#000'}};

const layout = {
  width:1259, height:966,
  margin:{l:0, r:57, t:0, b:48, pad:0},
  paper_bgcolor:'#f5f5f5', plot_bgcolor:'#f5f5f5',
  showlegend:false,
  font:{family:FONT, size:12, color:'#000'},
  xaxis: Object.assign({}, axisCommon, {range:[2005.0317, 2011.7094], tickmode:'array', tickvals:tickT, ticktext:tickText,
    showgrid:true, gridcolor:'#d9d9d9', gridwidth:1, anchor:'y2', ticklabelstandoff:2}),
  yaxis: Object.assign({}, axisCommon, {domain:[0.2026, 1], range:[142.6, 582.9], side:'right', anchor:'x',
    tick0:0, dtick:20, tickformat:'.2f', showgrid:false}),
  yaxis2: Object.assign({}, axisCommon, {domain:[0, 0.2015], range:[-8, 106.2], side:'right', anchor:'x',
    tick0:0, dtick:20, tickformat:'d', showgrid:false}),
  shapes: shapes,
  annotations: annotations
};

Plotly.newPlot('chart', traces, layout, {displayModeBar:false, staticPlot:true});
</script>
</body></html>
